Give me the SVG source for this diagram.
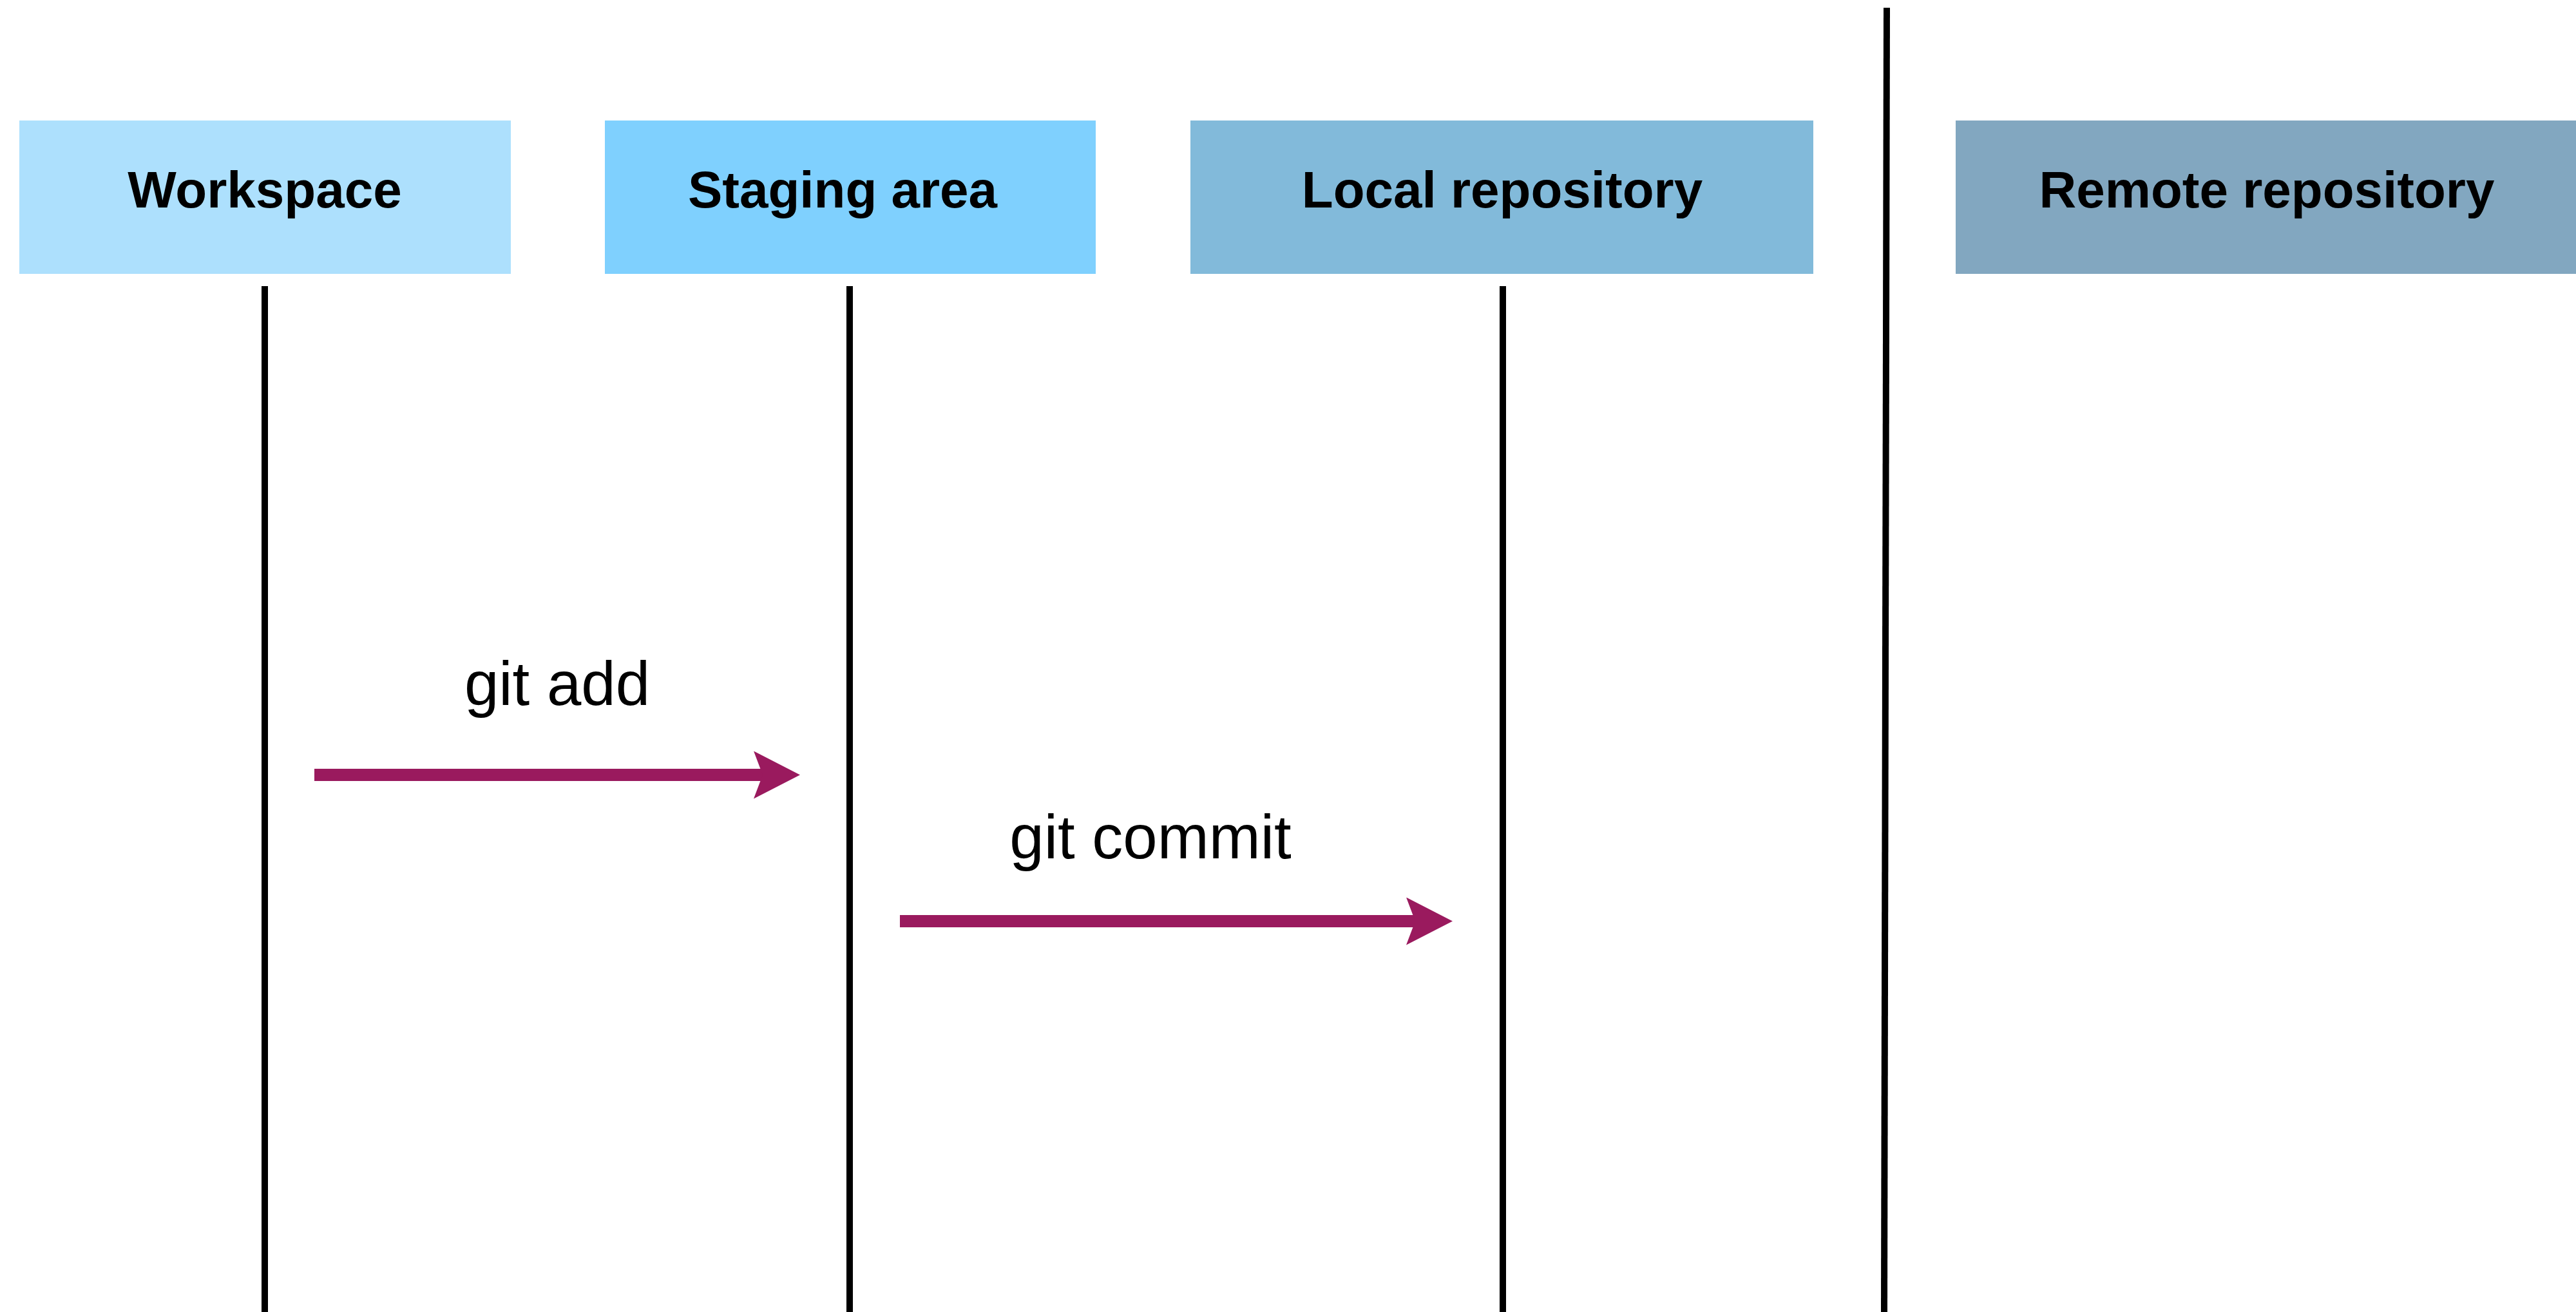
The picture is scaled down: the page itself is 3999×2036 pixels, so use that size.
<svg xmlns="http://www.w3.org/2000/svg" width="3999" height="2036" viewBox="0 0 3999 2036">
<style>
.title{font-family:"Liberation Sans",Arial,Helvetica,sans-serif;font-weight:bold;font-size:80px;fill:#000;text-anchor:middle}
.lbl{font-family:"Liberation Sans",Arial,Helvetica,sans-serif;font-size:96px;fill:#000;text-anchor:middle}
.life{stroke:#000;stroke-width:10;fill:none}
.arr{stroke:#9A1A5E;stroke-width:19;fill:none}
</style>
<defs>
<marker id="head" markerUnits="userSpaceOnUse" markerWidth="72" markerHeight="74" viewBox="0 0 72 74" refX="14" refY="37" orient="auto">
<path d="M0,0 L72,37 L0,74 L14,37 Z" fill="#9A1A5E"/>
</marker>
</defs>
<rect width="3999" height="2036" fill="#fff"/>
<g id="workspace">
<rect x="30" y="187" width="763" height="238" fill="#ADE0FD"/>
<text class="title" x="411" y="322">Workspace</text>
</g>
<g id="staging">
<rect x="939" y="187" width="762" height="238" fill="#7FD0FE"/>
<text class="title" x="1308" y="322">Staging area</text>
</g>
<g id="local">
<rect x="1848" y="187" width="967" height="238" fill="#82BADA"/>
<text class="title" x="2332" y="322">Local repository</text>
</g>
<g id="remote">
<rect x="3036" y="187" width="963" height="238" fill="#82A7C0"/>
<text class="title" x="3519" y="322">Remote repository</text>
</g>
<g id="connectors">
<line class="life" x1="411" y1="444" x2="411" y2="2036"/>
<line class="life" x1="1319" y1="444" x2="1319" y2="2036"/>
<line class="life" x1="2333" y1="444" x2="2333" y2="2036"/>
<line class="life" x1="2929" y1="12" x2="2925" y2="2036"/>
<line class="arr" x1="488" y1="1202.5" x2="1184" y2="1202.5" marker-end="url(#head)"/>
<line class="arr" x1="1397" y1="1429.5" x2="2197" y2="1429.5" marker-end="url(#head)"/>
<text class="lbl" x="865" y="1094">git add</text>
<text class="lbl" x="1786" y="1332">git commit</text>
</g>
</svg>
